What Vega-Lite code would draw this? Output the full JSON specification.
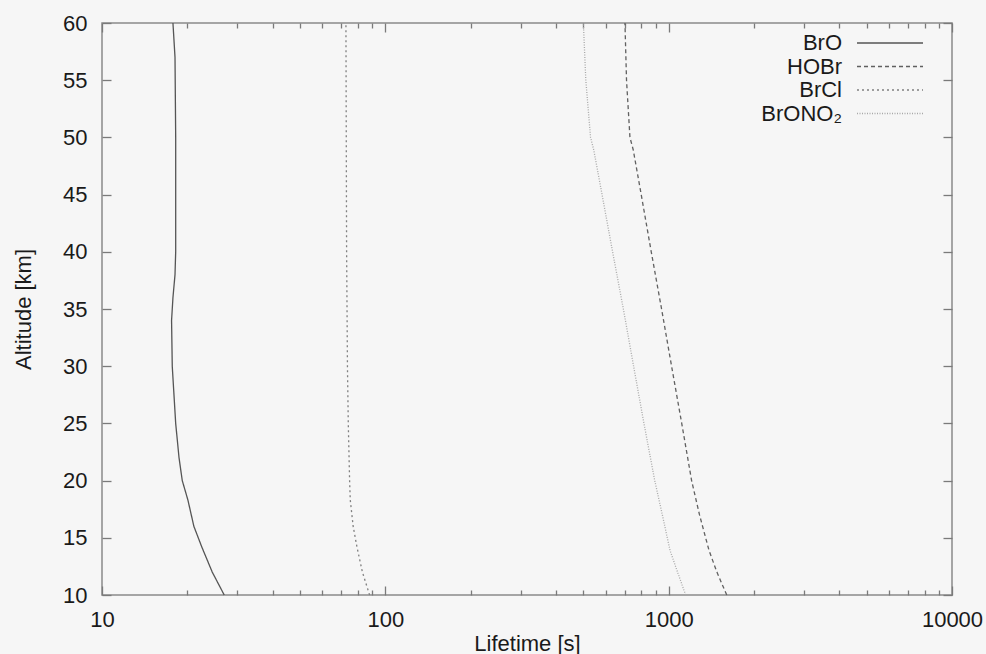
{
  "$schema": "https://vega.github.io/schema/vega-lite/v6.json",
  "autosize": {"type": "none"},
  "padding": {"left": 102, "top": 23, "right": 34, "bottom": 59},
  "width": 850,
  "height": 572,
  "background": "#f6f6f6",
  "config": {
    "font": "Liberation Sans",
    "view": {"stroke": "#8a8a8a", "strokeWidth": 1.5, "fill": "#f6f6f6"},
    "axis": {"domain": false, "grid": false, "tickColor": "#7a7a7a", "tickWidth": 1.3, "labelFont": "Liberation Sans", "labelFontSize": 22, "labelColor": "#1a1a1a", "titleFont": "Liberation Sans", "titleFontSize": 22, "titleFontWeight": "normal", "titleColor": "#1a1a1a"}
  },
  "data": {"values": [
    {"s": "BrO", "alt": 10, "t": 27.0},
    {"s": "BrO", "alt": 12, "t": 24.5},
    {"s": "BrO", "alt": 14.2, "t": 22.5},
    {"s": "BrO", "alt": 16, "t": 21.1},
    {"s": "BrO", "alt": 18.3, "t": 20.1},
    {"s": "BrO", "alt": 20, "t": 19.2},
    {"s": "BrO", "alt": 22, "t": 18.7},
    {"s": "BrO", "alt": 25, "t": 18.2},
    {"s": "BrO", "alt": 30, "t": 17.7},
    {"s": "BrO", "alt": 34, "t": 17.6},
    {"s": "BrO", "alt": 36, "t": 17.8},
    {"s": "BrO", "alt": 38, "t": 18.1},
    {"s": "BrO", "alt": 40, "t": 18.2},
    {"s": "BrO", "alt": 50, "t": 18.2},
    {"s": "BrO", "alt": 57, "t": 18.1},
    {"s": "BrO", "alt": 60, "t": 17.8},
    {"s": "HOBr", "alt": 10, "t": 1603},
    {"s": "HOBr", "alt": 12, "t": 1480},
    {"s": "HOBr", "alt": 13.9, "t": 1388},
    {"s": "HOBr", "alt": 17, "t": 1285},
    {"s": "HOBr", "alt": 20, "t": 1205},
    {"s": "HOBr", "alt": 25, "t": 1112},
    {"s": "HOBr", "alt": 30, "t": 1024},
    {"s": "HOBr", "alt": 35, "t": 944},
    {"s": "HOBr", "alt": 40, "t": 868},
    {"s": "HOBr", "alt": 45, "t": 800},
    {"s": "HOBr", "alt": 48.9, "t": 750},
    {"s": "HOBr", "alt": 50, "t": 730},
    {"s": "HOBr", "alt": 55, "t": 710},
    {"s": "HOBr", "alt": 60, "t": 701},
    {"s": "BrCl", "alt": 10, "t": 88},
    {"s": "BrCl", "alt": 12, "t": 83},
    {"s": "BrCl", "alt": 14.2, "t": 79.4},
    {"s": "BrCl", "alt": 16, "t": 77},
    {"s": "BrCl", "alt": 18.3, "t": 75.2},
    {"s": "BrCl", "alt": 20, "t": 74.8},
    {"s": "BrCl", "alt": 25, "t": 74},
    {"s": "BrCl", "alt": 30, "t": 73.5},
    {"s": "BrCl", "alt": 40, "t": 73.0},
    {"s": "BrCl", "alt": 50, "t": 72.8},
    {"s": "BrCl", "alt": 60, "t": 72.6},
    {"s": "BrONO2", "alt": 10, "t": 1148},
    {"s": "BrONO2", "alt": 12, "t": 1075},
    {"s": "BrONO2", "alt": 13.9, "t": 1011},
    {"s": "BrONO2", "alt": 17, "t": 950},
    {"s": "BrONO2", "alt": 20, "t": 893},
    {"s": "BrONO2", "alt": 25, "t": 818},
    {"s": "BrONO2", "alt": 30, "t": 752},
    {"s": "BrONO2", "alt": 35, "t": 692},
    {"s": "BrONO2", "alt": 40, "t": 634},
    {"s": "BrONO2", "alt": 45, "t": 582},
    {"s": "BrONO2", "alt": 48.9, "t": 544},
    {"s": "BrONO2", "alt": 50, "t": 530},
    {"s": "BrONO2", "alt": 55, "t": 510},
    {"s": "BrONO2", "alt": 60, "t": 500}
  ]},
  "layer": [
    {
      "mark": {"type": "line", "strokeWidth": 1.3},
      "encoding": {
        "x": {"field": "t", "type": "quantitative",
          "scale": {"type": "log", "domain": [10, 10000], "nice": false},
          "axis": {"orient": "bottom", "title": "Lifetime [s]", "titlePadding": -1,
            "values": [10,20,30,40,50,60,70,80,90,100,200,300,400,500,600,700,800,900,1000,2000,3000,4000,5000,6000,7000,8000,9000,10000],
            "labelExpr": "indexof(['10','100','1000','10000'], datum.label) >= 0 ? datum.label : ''",
            "format": "d",
            "labelPadding": 23, "labelFlush": false, "labelOverlap": false,
            "tickSize": {"condition": {"test": "indexof([10,100,1000,10000], datum.value) >= 0", "value": -9}, "value": -5}}},
        "y": {"field": "alt", "type": "quantitative",
          "scale": {"domain": [10, 60], "nice": false, "zero": false},
          "axis": {"orient": "left", "title": "Altitude [km]", "titlePadding": 27, "values": [10,15,20,25,30,35,40,45,50,55,60], "tickSize": -9, "labelPadding": 24, "labelFlush": false}},
        "order": {"field": "alt", "type": "quantitative"},
        "color": {"field": "s", "type": "nominal",
          "scale": {"domain": ["BrO", "HOBr", "BrCl", "BrONO2"], "range": ["#555555", "#606060", "#808080", "#a8a8a8"]},
          "legend": {"title": null, "orient": "none", "legendX": 677, "legendY": 9,
            "labelExpr": "datum.label == 'BrONO2' ? 'BrONO₂' : datum.label",
            "symbolType": "M-6,0H6", "symbolSize": 121, "symbolStrokeWidth": 1.3,
            "symbolOffset": 100, "labelOffset": -59, "labelAlign": "right",
            "labelFontSize": 22, "labelColor": "#1a1a1a", "labelFont": "Liberation Sans", "rowPadding": 1.5}},
        "strokeDash": {"field": "s", "type": "nominal",
          "scale": {"domain": ["BrO", "HOBr", "BrCl", "BrONO2"], "range": [[1, 0], [4, 3], [2, 3], [1, 1.5]]},
          "legend": null}
      }
    },
    {
      "mark": {"type": "point", "opacity": 0},
      "encoding": {
        "x": {"field": "t", "type": "quantitative",
          "scale": {"type": "log", "domain": [10, 10000], "nice": false},
          "axis": {"orient": "top", "title": null, "labels": false,
            "values": [10,20,30,40,50,60,70,80,90,100,200,300,400,500,600,700,800,900,1000,2000,3000,4000,5000,6000,7000,8000,9000,10000],
            "tickSize": {"condition": {"test": "indexof([10,100,1000,10000], datum.value) >= 0", "value": -9}, "value": -5}}},
        "y": {"field": "alt", "type": "quantitative",
          "scale": {"domain": [10, 60], "nice": false, "zero": false},
          "axis": {"orient": "right", "title": null, "labels": false, "values": [10,15,20,25,30,35,40,45,50,55,60], "tickSize": -9}}
      }
    }
  ],
  "resolve": {"axis": {"x": "independent", "y": "independent"}}
}
